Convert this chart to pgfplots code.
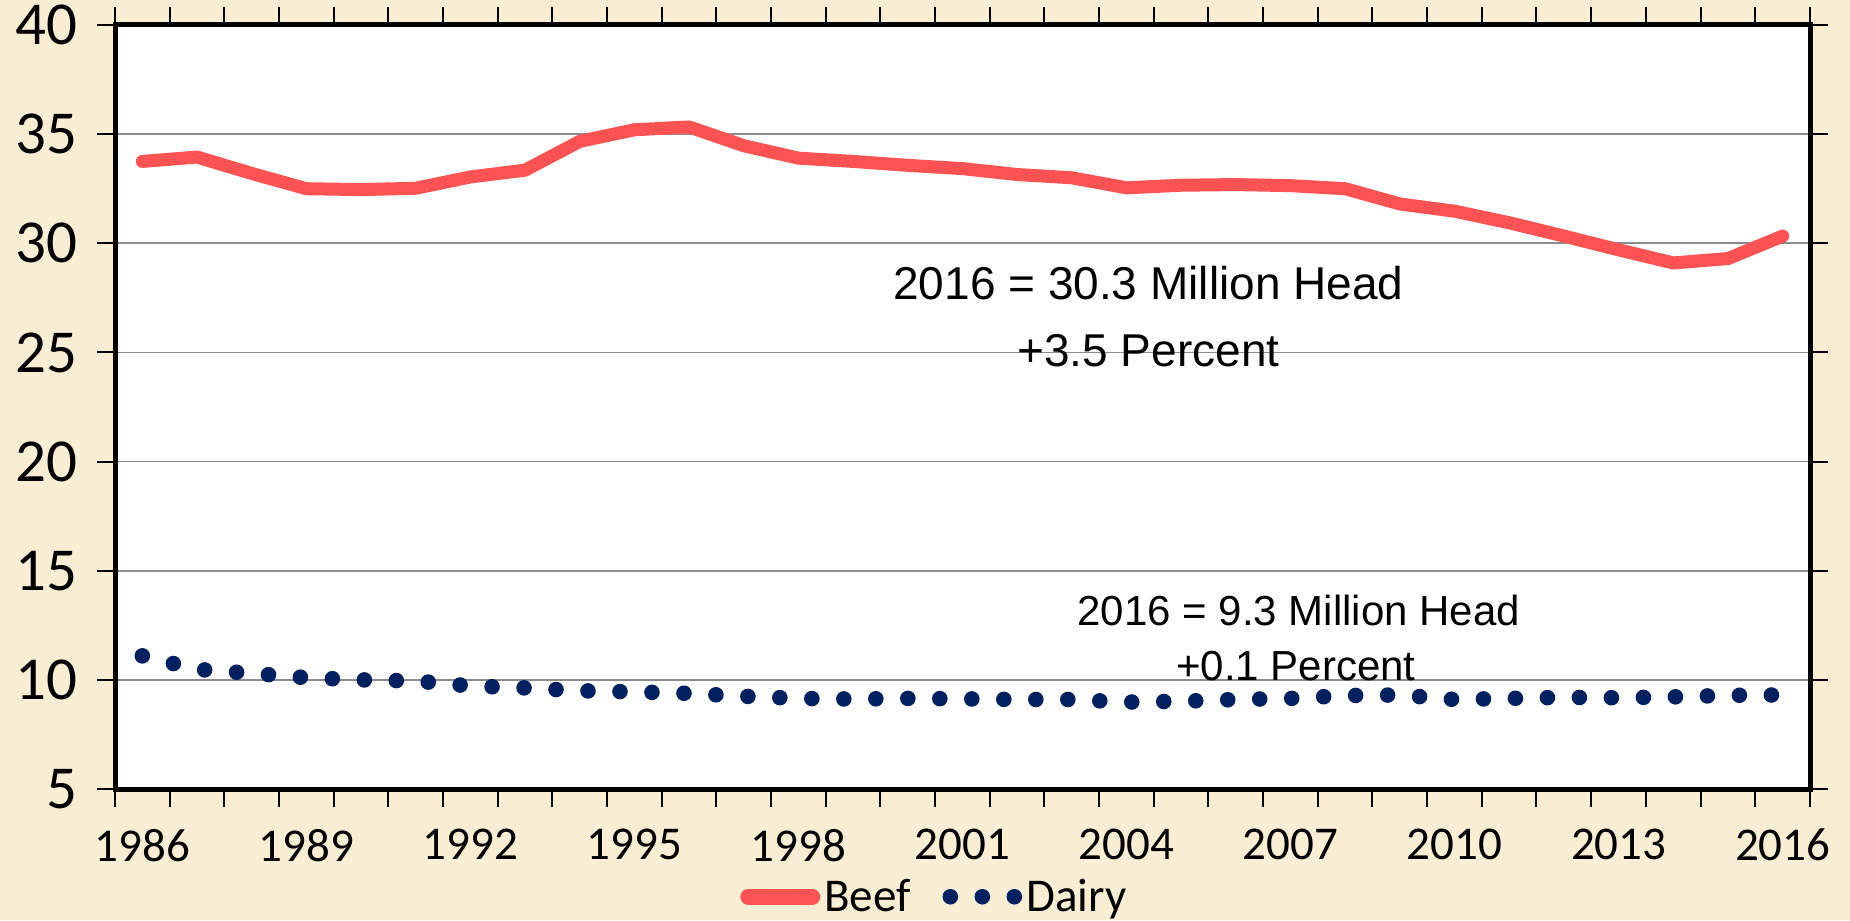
\documentclass[border=0pt]{standalone}
\usepackage{fontspec}
\setmainfont{Carlito}
\newfontfamily\arial{Liberation Sans}
\usepackage{pgfplots}
\pgfplotsset{compat=1.18}
\definecolor{bg}{RGB}{249,237,212}
\definecolor{beef}{RGB}{255,82,82}
\definecolor{dairy}{RGB}{0,32,96}
\definecolor{gridc}{RGB}{140,140,140}
\pgfplotstableread{
year beef dairy
1986 33.75 11.10
1987 33.95 10.48
1988 33.20 10.30
1989 32.50 10.10
1990 32.46 10.00
1991 32.52 9.95
1992 33.04 9.72
1993 33.35 9.63
1994 34.67 9.50
1995 35.20 9.45
1996 35.33 9.38
1997 34.47 9.25
1998 33.90 9.15
1999 33.75 9.12
2000 33.57 9.15
2001 33.42 9.13
2002 33.15 9.10
2003 33.00 9.10
2004 32.54 8.98
2005 32.66 9.02
2006 32.69 9.10
2007 32.64 9.15
2008 32.50 9.28
2009 31.80 9.31
2010 31.47 9.10
2011 30.94 9.15
2012 30.33 9.20
2013 29.70 9.18
2014 29.10 9.22
2015 29.30 9.29
2016 30.33 9.31
}\datatable
\begin{document}
\begin{tikzpicture}
\fill[bg] (-57.5pt,-65.5pt) rectangle (867.5pt,394.5pt);
\useasboundingbox (-57.5pt,-65.5pt) rectangle (867.5pt,394.5pt);
\begin{axis}[
  at={(0pt,0pt)}, anchor=south west,
  scale only axis, width=847.5pt, height=382pt,
  xmin=1985.5, xmax=2016.5, ymin=5, ymax=40,
  axis background/.style={fill=white},
  axis line style={line width=2.5pt, black},
  xtick={1985.5,1986.5,...,2016.5},
  xticklabels={},
  extra x ticks={1986,1989,1992,1995,1998,2001,2004,2007,2010,2013,2016},
  extra x tick labels={1986,1989,1992,1995,1998,2001,2004,2007,2010,2013,2016},
  extra x tick style={major tick length=0pt},
  ytick={5,10,...,40},
  ymajorgrids,
  major grid style={gridc, line width=0.8pt},
  tick align=outside,
  major tick length=9pt,
  tick style={black, line width=1pt},
  /pgf/number format/assume math mode=true,
  yticklabel style={xshift=-6.5pt, font=\fontsize{30.5}{34}\selectfont},
  xticklabel style={yshift=-16.5pt, font=\fontsize{23.5}{28}\selectfont},
  legend style={at={(0.484,-0.141)}, anchor=center, draw=none, fill=none,
    font=\fontsize{23.5}{28}\selectfont, legend columns=2,
    /tikz/every even column/.append style={column sep=14pt},
    inner sep=0pt},
  legend cell align=left,
]
\addplot[beef, line width=6.5pt, line join=round, line cap=round,
  legend image code/.code={\draw[beef, line width=8pt, line cap=round] (0pt,0pt) -- (32pt,0pt);}]
  table[x=year, y=beef] {\datatable};
\addlegendentry{Beef}
\addplot[dairy, line width=7.8pt, line cap=round, dash pattern=on 0pt off 16pt,
  legend image code/.code={\draw[dairy, line width=7.8pt, line cap=round, dash pattern=on 0pt off 16pt] (0pt,0pt) -- (32.1pt,0pt);}]
  table[x=year, y=dairy] {\datatable};
\addlegendentry{Dairy}
\node[font=\arial\fontsize{23}{27}\selectfont] at (axis cs:2004.4,28.2) {2016 = 30.3 Million Head};
\node[font=\arial\fontsize{23}{27}\selectfont] at (axis cs:2004.4,25.1) {+3.5 Percent};
\node[font=\arial\fontsize{21}{25}\selectfont] at (axis cs:2007.15,13.2) {2016 = 9.3 Million Head};
\node[font=\arial\fontsize{21}{25}\selectfont] at (axis cs:2007.1,10.65) {+0.1 Percent};
\end{axis}
\end{tikzpicture}
\end{document}
